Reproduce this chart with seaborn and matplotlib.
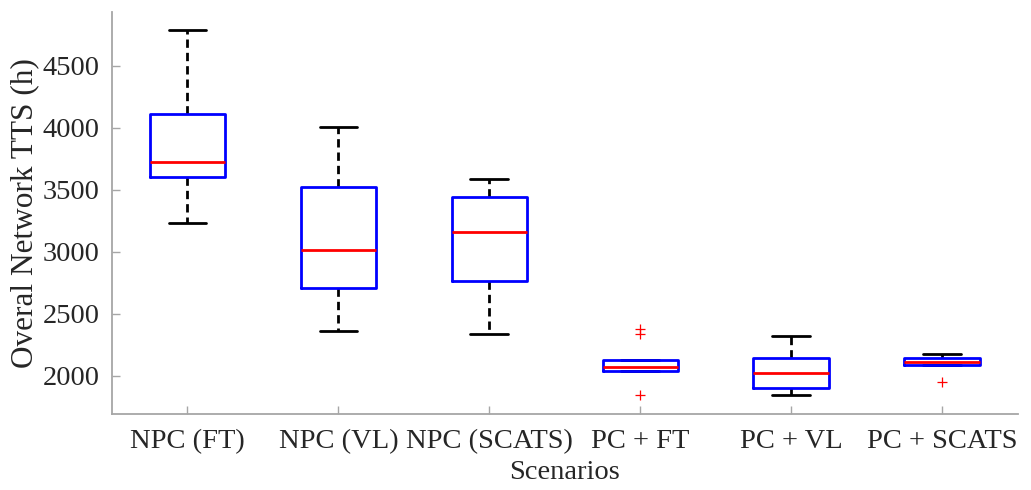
import pandas as pd
import seaborn as sns
import matplotlib.pyplot as plt

# Cenários (eixo x)
cenarios = ["NPC (FT)", "NPC (VL)", "NPC (SCATS)", "PC + FT", "PC + VL", "PC + SCATS"]

# Valores: extremos dos bigodes, quartis, mediana e outliers
npc_ft = [3229, 3605, 3605, 3726, 4110, 4110, 4793]
npc_vl = [2360, 2707, 2707, 3014, 3522, 3522, 4010]
npc_scats = [2336, 2766, 2766, 3161, 3438, 3438, 3586]
pc_ft = [1842, 2038, 2038, 2038, 2050, 2068, 2100, 2127, 2127, 2334, 2374]
pc_vl = [1844, 1898, 1898, 2022, 2140, 2140, 2318]
pc_scats = [1952, 2084, 2084, 2108, 2108, 2145, 2145, 2177]

valores = [npc_ft, npc_vl, npc_scats, pc_ft, pc_vl, pc_scats]

# Monta tabela no formato longo
linhas = []
for nome, vals in zip(cenarios, valores):
    for v in vals:
        linhas.append({"Scenarios": nome, "TTS": v})
tabela = pd.DataFrame(linhas)

sns.set_style("white")
plt.rcParams["font.family"] = ["Liberation Serif", "DejaVu Serif"]

fig = plt.figure(figsize=(10.31, 4.9), dpi=100)
ax = fig.add_axes([0.1086, 0.155, 0.8784, 0.8206])

sns.boxplot(
    data=tabela, x="Scenarios", y="TTS", order=cenarios,
    fill=False, width=0.5, color="blue", ax=ax,
    boxprops=dict(color="blue", linewidth=2, zorder=4),
    medianprops=dict(color="red", linewidth=2, zorder=5),
    whiskerprops=dict(color="black", linestyle=(0, (3, 1.8)), linewidth=2, zorder=2),
    capprops=dict(color="black", linewidth=2, zorder=2),
    flierprops=dict(marker="+", markeredgecolor="red", markerfacecolor="red",
                    markersize=7.5, markeredgewidth=0.9),
)

ax.set_xlim(-0.5, 5.5)
ax.set_ylim(1690, 4935)
ax.set_yticks([2000, 2500, 3000, 3500, 4000, 4500])

cinza = "#a6a6a6"
texto = "#262626"
for lado in ["top", "right"]:
    ax.spines[lado].set_visible(False)
for lado in ["left", "bottom"]:
    ax.spines[lado].set_color(cinza)
    ax.spines[lado].set_linewidth(1.3)

ax.tick_params(axis="both", direction="in", length=6, width=1, color=cinza,
               bottom=True, left=True, labelsize=20.5, labelcolor=texto)
ax.tick_params(axis="x", pad=11)
ax.tick_params(axis="y", pad=9)
ax.set_xlabel("Scenarios", fontsize=20.5, color=texto, labelpad=4)
ax.set_ylabel("Overal Network TTS (h)", fontsize=22.5, color=texto, labelpad=2)

plt.savefig("out.png", dpi=100)
plt.close()
